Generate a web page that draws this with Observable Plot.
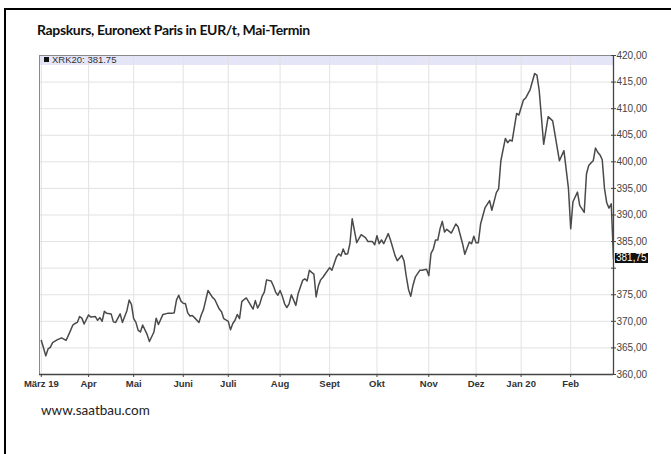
<!DOCTYPE html>
<html><head><meta charset="utf-8">
<script src="https://cdn.jsdelivr.net/npm/d3@7"></script>
<script src="https://cdn.jsdelivr.net/npm/@observablehq/plot@0.6"></script>
<style>
html,body{margin:0;padding:0;background:#fff}
body{width:671px;height:454px;overflow:hidden;position:relative;font-family:Arial,"Liberation Sans",sans-serif}
#frame{position:absolute;left:4px;top:8px;width:700px;height:500px;border-top:2px solid #000;border-left:2px solid #000}
#title{position:absolute;left:37px;top:21px;font:700 14px Lato,"Open Sans",sans-serif;letter-spacing:-0.35px;color:#111;white-space:nowrap}
#band{position:absolute;left:39px;top:55px;width:574px;height:10px;background:#e5e5f8}
#chart{position:absolute;left:0;top:0}
#legend{position:absolute;left:44px;top:55px;height:10px;line-height:10px;font-size:9.5px;color:#333;white-space:nowrap}
#last{position:absolute;background:#111;color:#fff;font-size:10px;line-height:10px;padding:0 1px;white-space:nowrap}
#caption{position:absolute;left:41px;top:402px;font:400 13.5px Lato,"Open Sans",sans-serif;color:#222;white-space:nowrap}
</style></head>
<body>
<div id="frame"></div>
<div id="title">Rapskurs, Euronext Paris in EUR/t, Mai-Termin</div>
<div id="band"></div>
<div id="chart"></div>
<div id="legend"></div>
<div id="caption">www.saatbau.com</div>
<script>
// Handelstage (Index ab 1. März 2019) und Schlusskurse in EUR/t
const day = [0,1,2,3,4,5,7,9,11,13,14,15,16,17,18,19,21,22,24,25,26,27,28,29,31,32,33,35,36,38,39,40,41,42,43,44,45,47,48,50,51,52,54,56,58,59,60,61,62,63,64,65,66,67,68,70,71,72,74,76,77,79,80,81,83,84,85,86,87,88,89,90,91,93,94,95,96,97,98,99,100,102,103,104,105,106,107,108,109,110,111,113,114,116,117,118,119,120,121,122,123,124,125,126,128,129,131,132,133,134,135,136,137,138,140,142,144,145,147,148,149,150,151,152,154,155,157,158,160,161,162,163,164,165,166,168,169,171,172,173,174,175,176,177,178,179,180,182,184,185,187,188,190,191,192,193,194,195,197,199,200,202,203,204,206,207,208,209,211,212,214,215,217,219,220,221,223,225,227,230,232,234,235,236,238,239,241,242,243,244,245,246,247,248,249,250,251,252,253,254];
const price = [366.4,365.0,363.5,364.8,365.1,366.0,366.5,366.9,366.4,368.3,369.3,369.6,369.8,370.9,370.6,369.5,371.2,370.8,370.9,370.2,370.7,370.0,371.9,371.5,371.4,369.9,369.8,371.4,369.8,372.0,374.0,373.2,370.5,369.8,368.3,368.0,369.3,367.5,366.2,368.0,370.6,369.4,371.3,371.5,371.5,371.6,374.0,374.9,373.8,373.4,373.3,371.6,371.0,371.1,370.7,369.8,371.2,372.2,375.8,374.5,374.1,372.3,371.8,370.5,370.0,368.4,369.6,370.2,371.3,370.5,373.7,374.1,374.4,373.0,372.3,373.9,372.5,373.3,374.7,375.5,377.8,377.6,376.7,375.5,374.9,375.8,374.7,373.3,372.6,373.3,375.0,373.0,375.2,377.7,378.0,377.6,379.6,379.2,378.9,374.6,376.7,377.8,378.3,378.9,380.1,379.6,382.1,382.7,382.3,383.6,382.6,382.7,384.6,389.3,384.8,386.3,385.7,385.0,385.0,384.4,386.1,384.6,385.3,384.6,386.5,385.3,382.4,381.4,382.4,381.4,378.5,376.0,374.7,376.8,378.3,379.6,379.6,379.8,378.6,382.8,383.6,385.3,385.3,387.4,388.8,386.8,387.3,386.6,388.3,387.8,384.6,382.6,384.9,384.6,386.0,384.8,384.8,388.3,391.4,392.7,390.9,394.2,394.9,400.2,404.4,403.6,404.1,403.9,409.1,408.8,411.6,412.0,413.6,416.6,416.3,413.5,403.3,408.5,407.7,400.2,402.1,395.0,387.4,392.5,394.3,391.8,390.5,397.7,399.3,399.8,400.2,402.6,401.8,401.3,400.4,395.0,392.3,391.3,392.1,381.75];
const monthLabels = ["März 19","Apr","Mai","Juni","Juli","Aug","Sept","Okt","Nov","Dez","Jan 20","Feb"];
const holidays = ["2019-04-19","2019-04-22","2019-05-01","2019-12-25","2019-12-26","2020-01-01"];
const yTicks = [360,365,370,375,380,385,390,395,400,405,410,415,420];
const lastPrice = 381.75;
const symbol = "XRK20";

// trading calendar -> first session of each month
const sessions = [];
for (let t = Date.UTC(2019,2,1); t <= Date.UTC(2020,1,28); t += 864e5) {
  const d = new Date(t), wd = d.getUTCDay(), iso = d.toISOString().slice(0,10);
  if (wd !== 0 && wd !== 6 && !holidays.includes(iso)) sessions.push(d);
}
const monthTicks = [], tickLabel = new Map();
sessions.forEach((d, i) => {
  if (i === 0 || d.getUTCMonth() !== sessions[i-1].getUTCMonth()) {
    tickLabel.set(i, monthLabels[monthTicks.length]);
    monthTicks.push(i);
  }
});
const lastIndex = sessions.length - 1;
const data = day.map((d, i) => ({day: d, price: price[i]}));
const fmt = v => v.toFixed(2).replace(".", ",");

const plot = Plot.plot({
  width: 671, height: 454,
  marginTop: 55, marginBottom: 80, marginLeft: 39, marginRight: 58,
  style: {background: "transparent", fontFamily: "Arial, 'Liberation Sans', sans-serif"},
  x: {type: "linear", domain: [-0.8, lastIndex], axis: null, label: null},
  y: {domain: [360, 420], axis: null, label: null},
  marks: [
    Plot.gridY(yTicks, {stroke: "#e2e2e2", strokeOpacity: 1}),
    Plot.gridX(monthTicks, {stroke: "#e2e2e2", strokeOpacity: 1}),
    Plot.frame({stroke: "#8a8a8a"}),
    Plot.ruleY([360], {stroke: "#444", strokeWidth: 1.3}),
    Plot.ruleX([lastIndex], {stroke: "#444", strokeWidth: 1.3}),
    Plot.line(data, {x: "day", y: "price", stroke: "#4a4a4a", strokeWidth: 1.5}),
    Plot.axisX(monthTicks, {anchor: "bottom", label: null, tickSize: 3, tickPadding: 3, stroke: "#444",
      tickFormat: d => tickLabel.get(d), fontSize: 9.5, fontWeight: "bold", fill: "#333"}),
    Plot.axisY(yTicks, {anchor: "right", label: null, tickSize: 5, dx: -3, stroke: "#444", tickFormat: () => ""}),
    Plot.axisY(yTicks, {anchor: "right", label: null, tickSize: 0, tickPadding: 3,
      tickFormat: d => d === 380 ? "" : fmt(d), fontSize: 10, fill: "#444"})
  ]
});
document.getElementById("chart").appendChild(plot);

document.getElementById("legend").innerHTML =
  '<span style="display:inline-block;width:5px;height:5px;background:#111;margin-right:3px;vertical-align:1px"></span>' +
  symbol + ": " + lastPrice.toFixed(2);

const yPos = plot.scale("y").apply(lastPrice);
const box = document.createElement("div");
box.id = "last";
box.textContent = fmt(lastPrice);
box.style.left = (plot.scale("x").apply(lastIndex) + 2) + "px";
box.style.top = (yPos - 5) + "px";
document.body.appendChild(box);
</script>
</body></html>
